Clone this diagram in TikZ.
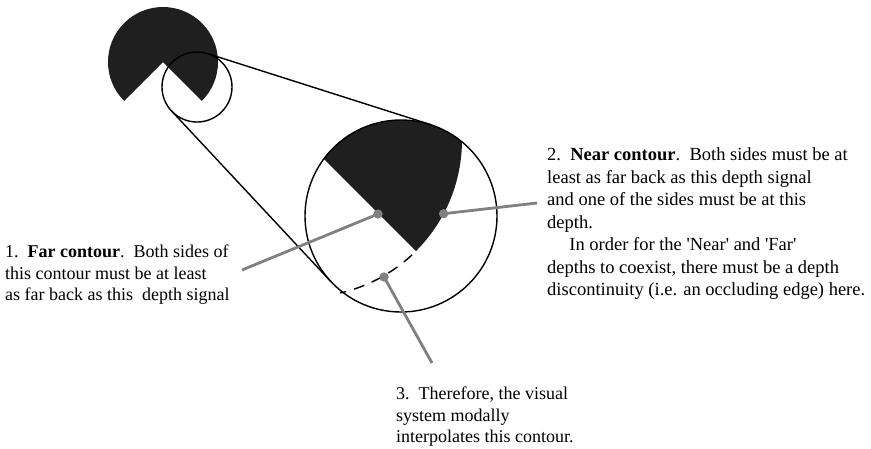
\documentclass[tikz,border=0pt]{standalone}
\usepackage{fontspec}
\setmainfont{Liberation Serif}
\usetikzlibrary{positioning}

\begin{document}
\begin{tikzpicture}[x=1pt, y=-1pt]
\tikzset{
    every node/.style={align=left},
    outline/.style={line width=1.4pt},
    pointer/.style={draw=black!50, line width=2.8pt},
    depthdot/.style={circle, fill=black!50, inner sep=0pt, minimum size=9pt},
    caption/.style={anchor=north west, inner sep=0pt, font=\fontsize{18}{21.5}\selectfont}
}
\useasboundingbox (0,0) rectangle (871,448);

% small inducer and the window on it
\fill[black!88] (163,62) -- ++(135:55) arc[start angle=135, end angle=405, radius=55] -- cycle;
\draw[outline] (197,87) circle[radius=35];

% enlarged view of the window
\begin{scope}
    \clip (401,216) circle[radius=96];
    \fill[black!88] (305,140) -- ++(135:157) arc[start angle=135, end angle=405, radius=157] -- cycle;
\end{scope}
\draw[outline] (401,216) circle[radius=96];
\draw[outline, dash pattern=on 11pt off 8pt] (305,140) ++(47:157) arc[start angle=47, end angle=77, radius=157];

% tangent lines
\coordinate (smalltop) at (207.6,53.6);
\coordinate (bigtop) at (430.2,124.5);
\coordinate (smallbot) at (171.5,110.9);
\coordinate (bigbot) at (330.9,281.6);
\draw[outline] (smalltop) -- (bigtop);
\draw[outline] (smallbot) -- (bigbot);

% depth signals
\coordinate (farend) at (242,270);
\coordinate (nearend) at (537,203);
\coordinate (gapend) at (432,363);
\node[depthdot] (fardot) at (378,214) {};
\node[depthdot] (neardot) at (443.6,213.7) {};
\node[depthdot] (gapdot) at (384,277) {};
\draw[pointer] (fardot.center) -- (farend);
\draw[pointer] (neardot.center) -- (nearend);
\draw[pointer] (gapdot.center) -- (gapend);
\node[depthdot] at (fardot) {};
\node[depthdot] at (neardot) {};
\node[depthdot] at (gapdot) {};

% notes
\node[caption] (farnote) at (5,245) {1.\ \ \textbf{Far contour}.\ \ Both sides of\\this contour must be at least\\as far back as this\ \ depth signal};
\node[caption, font=\fontsize{18.5}{22.5}\selectfont] (nearnote) at (547,147.5) {2.\ \ \textbf{Near contour}.\ \ Both sides must be at\\least as far back as this depth signal\\and one of the sides must be at this\\depth.\\\hspace*{1.2em}In order for the \textquotesingle Near\textquotesingle\ and \textquotesingle Far\textquotesingle\\depths to coexist, there must be a depth\\discontinuity (i.e. an occluding edge) here.};
\node[caption] (gapnote) at (396,387) {3.\ \ Therefore, the visual\\system modally\\interpolates this contour.};
\end{tikzpicture}
\end{document}
